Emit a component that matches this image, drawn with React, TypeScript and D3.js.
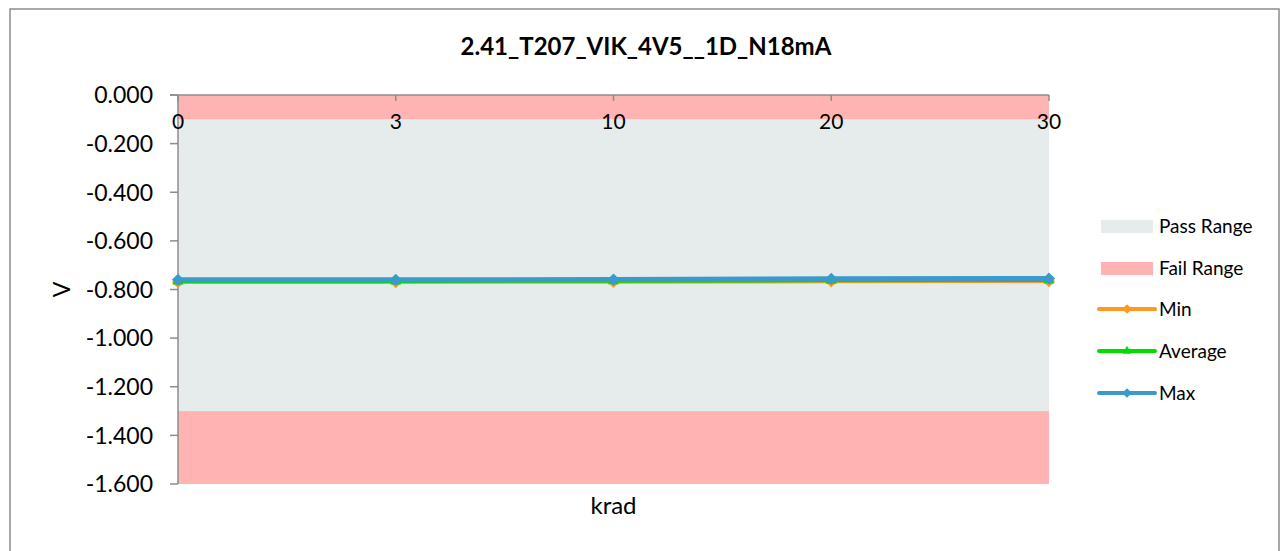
import React from "react";
import * as d3 from "d3";

const categories = ["0", "3", "10", "20", "30"];
const minValues = [-0.770, -0.770, -0.769, -0.767, -0.766];
const avgValues = [-0.766, -0.766, -0.765, -0.763, -0.762];
const maxValues = [-0.760, -0.760, -0.759, -0.756, -0.755];
const yTicks = [0, -0.2, -0.4, -0.6, -0.8, -1.0, -1.2, -1.4, -1.6];
const passRange = [-0.1, -1.3];
const failUpper = [0, -0.1];
const failLower = [-1.3, -1.6];
const title = "2.41_T207_VIK_4V5__1D_N18mA";

const FONT = "Lato, 'Open Sans', 'Noto Sans', sans-serif";

export default function App() {
  const W = 1288, H = 551;
  const left = 178, right = 1049, top = 95, bottom = 484;
  const x = d3.scalePoint<string>().domain(categories).range([left, right]);
  const y = d3.scaleLinear().domain([-1.6, 0]).range([bottom, top]);
  const line = d3.line<number>().x((_, i) => x(categories[i])!).y((d) => y(d));

  const series = [
    { name: "Min", values: minValues, color: "#FF9A1E", marker: "diamond" },
    { name: "Average", values: avgValues, color: "#00DD00", marker: "triangle" },
    { name: "Max", values: maxValues, color: "#3A9ACB", marker: "diamond" },
  ];
  const diamond = d3.symbol().type(d3.symbolDiamond2).size(95)()!;
  const triangle = d3.symbol().type(d3.symbolTriangle2).size(90)()!;
  const legDiamond = d3.symbol().type(d3.symbolDiamond2).size(60)()!;
  const legTriangle = d3.symbol().type(d3.symbolTriangle2).size(60)()!;
  const passColor = "#E6ECEC";
  const failColor = "#FFB3B3";

  const legendX = 1101;
  const legendRows = [226, 268, 309, 351, 393];

  return (
    <svg width={W} height={H} style={{ display: "block", position: "absolute", left: 0, top: 0 }}>
      <rect x={0} y={0} width={W} height={H} fill="#fff" />
      <rect x={10} y={9} width={1269} height={560} fill="#fff" stroke="#8c8c8c" strokeWidth={1.5} />
      <text x={646} y={55} textAnchor="middle" fontFamily={FONT} fontWeight="bold" fontSize={24} fill="#000">{title}</text>

      <rect x={left} y={y(passRange[0])} width={right - left} height={y(passRange[1]) - y(passRange[0])} fill={passColor} />
      <rect x={left} y={y(failUpper[0])} width={right - left} height={y(failUpper[1]) - y(failUpper[0])} fill={failColor} />
      <rect x={left} y={y(failLower[0])} width={right - left} height={y(failLower[1]) - y(failLower[0])} fill={failColor} />

      {/* y axis */}
      <line x1={left} x2={left} y1={top} y2={bottom} stroke="#8c8c8c" strokeWidth={1.5} />
      {yTicks.map((t) => (
        <g key={t}>
          <line x1={left - 8} x2={left} y1={y(t)} y2={y(t)} stroke="#8c8c8c" strokeWidth={1.5} />
          <text x={left - 25} y={y(t)} dy="0.36em" textAnchor="end" fontFamily={FONT} fontSize={23} fill="#000">{t.toFixed(3)}</text>
        </g>
      ))}
      {/* x axis at 0 */}
      <line x1={left - 8} x2={right} y1={y(0)} y2={y(0)} stroke="#8c8c8c" strokeWidth={1.5} />
      {categories.map((c) => (
        <g key={c}>
          <line x1={x(c)!} x2={x(c)!} y1={y(0)} y2={y(0) + 6} stroke="#8c8c8c" strokeWidth={1.5} />
          <text x={x(c)!} y={y(0) + 34} textAnchor="middle" fontFamily={FONT} fontSize={21} fill="#000">{c}</text>
        </g>
      ))}

      <text transform={`translate(70,${(top + bottom) / 2}) rotate(-90)`} textAnchor="middle" fontFamily={FONT} fontSize={23} fill="#000">V</text>
      <text x={(left + right) / 2} y={514} textAnchor="middle" fontFamily={FONT} fontSize={24} fill="#000">krad</text>

      {series.map((s) => (
        <g key={s.name}>
          <path d={line(s.values)!} fill="none" stroke={s.color} strokeWidth={s.name === "Max" ? 5 : 3.5} strokeLinejoin="round" />
          {s.values.map((v, i) => (
            <path key={i} d={s.marker === "diamond" ? diamond : triangle} transform={`translate(${x(categories[i])},${y(v)})`} fill={s.color} />
          ))}
        </g>
      ))}

      {/* legend */}
      <rect x={legendX} y={legendRows[0] - 6} width={52} height={13} fill={passColor} />
      <text x={1159} y={legendRows[0]} dy="0.35em" fontFamily={FONT} fontSize={19} fill="#000">Pass Range</text>
      <rect x={legendX} y={legendRows[1] - 6} width={52} height={13} fill={failColor} />
      <text x={1159} y={legendRows[1]} dy="0.35em" fontFamily={FONT} fontSize={19} fill="#000">Fail Range</text>
      {series.map((s, i) => (
        <g key={s.name}>
          <line x1={legendX - 2} x2={legendX + 54} y1={legendRows[i + 2]} y2={legendRows[i + 2]} stroke={s.color} strokeWidth={4} strokeLinecap="round" />
          <path d={s.marker === "diamond" ? legDiamond : legTriangle} transform={`translate(${legendX + 26},${legendRows[i + 2]})`} fill={s.color} />
          <text x={1159} y={legendRows[i + 2]} dy="0.35em" fontFamily={FONT} fontSize={19} fill="#000">{s.name}</text>
        </g>
      ))}
    </svg>
  );
}
